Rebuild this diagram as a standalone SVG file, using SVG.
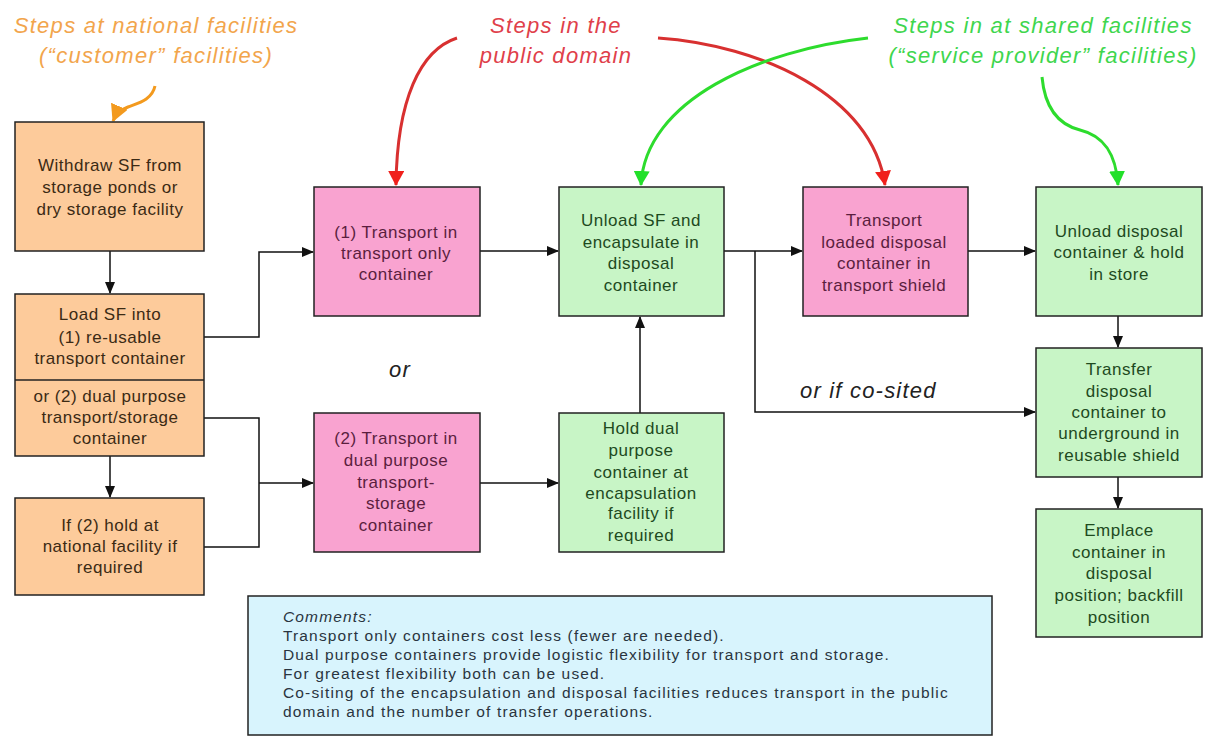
<svg xmlns="http://www.w3.org/2000/svg" width="1212" height="738" viewBox="0 0 1212 738">
<style>
.box{stroke:#222;stroke-width:1.5}
.or{fill:#FDCB9B}.pk{fill:#F9A3D0}.gr{fill:#C8F5C6}
.t{font-family:"Liberation Sans",Arial,sans-serif;font-size:17px;letter-spacing:0.5px;text-anchor:middle}
.to{fill:#3B2A14}.tp{fill:#5B1E3E}.tg{fill:#1E4A1E}
.ttl{font-family:"Liberation Sans",Arial,sans-serif;font-style:italic;font-size:22px;letter-spacing:1.3px;text-anchor:middle}
.c{fill:none;stroke:#111;stroke-width:1.5}
.lbl{font-family:"Liberation Sans",Arial,sans-serif;font-style:italic;font-size:22px;letter-spacing:1.2px;fill:#222}
.cm{font-family:"Liberation Sans",Arial,sans-serif;font-size:15.5px;letter-spacing:1.15px;fill:#2A3440}
</style>
<defs>
<marker id="ah" markerWidth="12" markerHeight="10" refX="11" refY="5" orient="auto" markerUnits="userSpaceOnUse"><path d="M0,0 L12,5 L0,10 Z" fill="#111"/></marker>
<marker id="ahO" markerWidth="18" markerHeight="18" refX="16" refY="9" orient="auto" markerUnits="userSpaceOnUse"><path d="M0,0 L17,9 L0,18 Z" fill="#F39A1E"/></marker>
<marker id="ahR" markerWidth="16" markerHeight="16" refX="14" refY="8" orient="auto" markerUnits="userSpaceOnUse"><path d="M0,0 L15,8 L0,16 Z" fill="#F0201C"/></marker>
<marker id="ahG" markerWidth="16" markerHeight="16" refX="14" refY="8" orient="auto" markerUnits="userSpaceOnUse"><path d="M0,0 L15,8 L0,16 Z" fill="#22E02A"/></marker>
</defs>
<rect width="1212" height="738" fill="#fff"/>

<g id="titles">
<text class="ttl" fill="#F2A54C" x="156" y="33">Steps at national facilities</text>
<text class="ttl" fill="#F2A54C" x="156" y="63">(“customer” facilities)</text>
<text class="ttl" fill="#E0404A" x="556" y="33">Steps in the</text>
<text class="ttl" fill="#E0404A" x="556" y="63">public domain</text>
<text class="ttl" fill="#3FD64E" x="1043" y="33">Steps in at shared facilities</text>
<text class="ttl" fill="#3FD64E" x="1043" y="63">(“service provider” facilities)</text>
</g>

<g id="annotation-arrows" fill="none" stroke-width="3">
<path d="M155,86 C152,100 138,103 128,107 C120,110 116,114 113,121" stroke="#F39A1E" marker-end="url(#ahO)"/>
<path d="M457,38 C420,50 397,100 396,185" stroke="#D83030" marker-end="url(#ahR)"/>
<path d="M658,38 C760,45 872,95 885,185" stroke="#D83030" marker-end="url(#ahR)"/>
<path d="M868,38 C760,50 645,100 641,185" stroke="#2DDC2D" marker-end="url(#ahG)"/>
<path d="M1042,77 C1045,110 1060,125 1080,130 C1105,136 1116,155 1118,185" stroke="#2DDC2D" marker-end="url(#ahG)"/>
</g>

<g id="connectors">
<path class="c" d="M110,251 V293" marker-end="url(#ah)"/>
<path class="c" d="M110,456 V497" marker-end="url(#ah)"/>
<path class="c" d="M204,337 H259 V252 H313" marker-end="url(#ah)"/>
<path class="c" d="M204,418 H259 V547 H204"/>
<path class="c" d="M259,483 H313" marker-end="url(#ah)"/>
<path class="c" d="M480,251 H558" marker-end="url(#ah)"/>
<path class="c" d="M480,483 H558" marker-end="url(#ah)"/>
<path class="c" d="M640,413 V317" marker-end="url(#ah)"/>
<path class="c" d="M724,251 H802" marker-end="url(#ah)"/>
<path class="c" d="M755,251 V412 H1035" marker-end="url(#ah)"/>
<path class="c" d="M968,251 H1035" marker-end="url(#ah)"/>
<path class="c" d="M1118,316 V347" marker-end="url(#ah)"/>
<path class="c" d="M1118,477 V508" marker-end="url(#ah)"/>
</g>

<g id="withdraw">
<rect class="box or" x="15" y="122" width="189" height="129"/>
<text class="t to"><tspan x="110" y="171">Withdraw SF from</tspan><tspan x="110" y="193">storage ponds or</tspan><tspan x="110" y="215">dry storage facility</tspan></text>
</g>
<g id="load">
<rect class="box or" x="15" y="294" width="189" height="162"/>
<line x1="15" y1="380" x2="204" y2="380" stroke="#222" stroke-width="1.5"/>
<text class="t to"><tspan x="110" y="320">Load SF into</tspan><tspan x="110" y="343">(1) re-usable</tspan><tspan x="110" y="364">transport container</tspan><tspan x="110" y="402">or (2) dual purpose</tspan><tspan x="110" y="423">transport/storage</tspan><tspan x="110" y="444">container</tspan></text>
</g>
<g id="hold-national">
<rect class="box or" x="15" y="498" width="189" height="97"/>
<text class="t to"><tspan x="110" y="531">If (2) hold at</tspan><tspan x="110" y="552">national facility if</tspan><tspan x="110" y="573">required</tspan></text>
</g>

<g id="transport1">
<rect class="box pk" x="314" y="187" width="166" height="129"/>
<text class="t tp"><tspan x="396" y="238">(1) Transport in</tspan><tspan x="396" y="259">transport only</tspan><tspan x="396" y="280">container</tspan></text>
</g>
<g id="transport2">
<rect class="box pk" x="314" y="413" width="166" height="139"/>
<text class="t tp"><tspan x="396" y="444">(2) Transport in</tspan><tspan x="396" y="466">dual purpose</tspan><tspan x="396" y="488">transport-</tspan><tspan x="396" y="509">storage</tspan><tspan x="396" y="531">container</tspan></text>
</g>
<g id="unload-sf">
<rect class="box gr" x="559" y="187" width="165" height="129"/>
<text class="t tg"><tspan x="641" y="226">Unload SF and</tspan><tspan x="641" y="248">encapsulate in</tspan><tspan x="641" y="269">disposal</tspan><tspan x="641" y="291">container</tspan></text>
</g>
<g id="hold-dual">
<rect class="box gr" x="559" y="413" width="165" height="139"/>
<text class="t tg"><tspan x="641" y="434">Hold dual</tspan><tspan x="641" y="456">purpose</tspan><tspan x="641" y="478">container at</tspan><tspan x="641" y="499">encapsulation</tspan><tspan x="641" y="519">facility if</tspan><tspan x="641" y="541">required</tspan></text>
</g>
<g id="transport3">
<rect class="box pk" x="803" y="187" width="165" height="129"/>
<text class="t tp"><tspan x="884" y="226">Transport</tspan><tspan x="884" y="248">loaded disposal</tspan><tspan x="884" y="269">container in</tspan><tspan x="884" y="291">transport shield</tspan></text>
</g>
<g id="unload-disposal">
<rect class="box gr" x="1036" y="187" width="166" height="129"/>
<text class="t tg"><tspan x="1119" y="237">Unload disposal</tspan><tspan x="1119" y="258">container &amp; hold</tspan><tspan x="1119" y="280">in store</tspan></text>
</g>
<g id="transfer">
<rect class="box gr" x="1036" y="348" width="166" height="129"/>
<text class="t tg"><tspan x="1119" y="375">Transfer</tspan><tspan x="1119" y="397">disposal</tspan><tspan x="1119" y="418">container to</tspan><tspan x="1119" y="439">underground in</tspan><tspan x="1119" y="461">reusable shield</tspan></text>
</g>
<g id="emplace">
<rect class="box gr" x="1036" y="509" width="166" height="128"/>
<text class="t tg"><tspan x="1119" y="536">Emplace</tspan><tspan x="1119" y="558">container in</tspan><tspan x="1119" y="579">disposal</tspan><tspan x="1119" y="601">position; backfill</tspan><tspan x="1119" y="623">position</tspan></text>
</g>

<g id="labels">
<text class="lbl" x="400" y="377" text-anchor="middle">or</text>
<text class="lbl" x="800" y="398">or if co-sited</text>
</g>

<g id="comments">
<rect x="248" y="596" width="744" height="139" fill="#D8F4FD" stroke="#222" stroke-width="1.5"/>
<text class="cm"><tspan x="283" y="622" font-style="italic">Comments:</tspan><tspan x="283" y="641">Transport only containers cost less (fewer are needed).</tspan><tspan x="283" y="660">Dual purpose containers provide logistic flexibility for transport and storage.</tspan><tspan x="283" y="679">For greatest flexibility both can be used.</tspan><tspan x="283" y="698">Co-siting of the encapsulation and disposal facilities reduces transport in the public</tspan><tspan x="283" y="717">domain and the number of transfer operations.</tspan></text>
</g>
</svg>
